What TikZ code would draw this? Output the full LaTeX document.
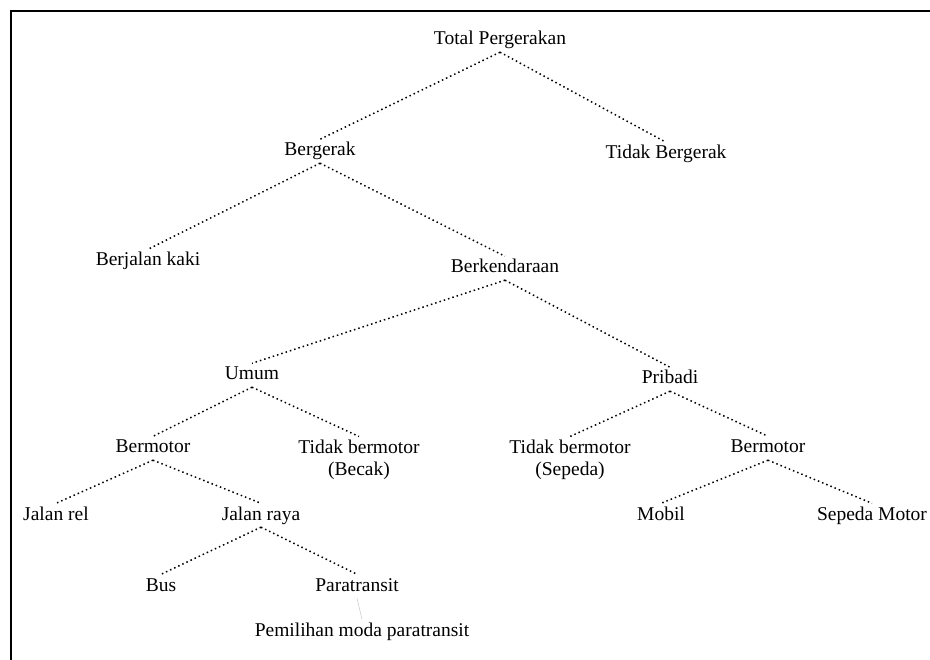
\documentclass[tikz,border=0pt]{standalone}
\usepackage{fontspec}
\setmainfont{Liberation Serif}
\begin{document}
\begin{tikzpicture}[x=1pt,y=-1pt,
  lbl/.style={font=\fontsize{19.5}{22}\selectfont, inner sep=3pt,
              text height=13.5pt, text depth=4pt, anchor=base},
  lbltwo/.style={font=\fontsize{19.5}{22}\selectfont, inner sep=3pt,
              align=center, anchor=north},
  link/.style={draw=black, line width=1.5pt, dash pattern=on 1.5pt off 3pt},
  faint/.style={draw=black!20, line width=0.6pt}]

\useasboundingbox (0,0) rectangle (930,660);
\clip (0,0) rectangle (930,660);

% frame (open to the right and bottom)
\draw[line width=2.2pt] (10.8,700) -- (10.8,10.8) -- (960,10.8);

% labels
\node[lbl] (total)      at (500,45)  {Total Pergerakan};
\node[lbl] (gerak)      at (320,156) {Bergerak};
\node[lbl] (tidakgerak) at (666,159) {Tidak Bergerak};
\node[lbl] (jalan)      at (148,266) {Berjalan kaki};
\node[lbl] (kendara)    at (505,273) {Berkendaraan};
\node[lbl] (umum)       at (252,380) {Umum};
\node[lbl] (pribadi)    at (670,384) {Pribadi};
\node[lbl] (motorU)     at (153,453) {Bermotor};
\node[lbltwo] (becak)   at (359,436.5) {Tidak bermotor\\(Becak)};
\node[lbltwo] (sepeda)  at (570,436.5) {Tidak bermotor\\(Sepeda)};
\node[lbl] (motorP)     at (768,453) {Bermotor};
\node[lbl] (rel)        at (56,520)  {Jalan rel};
\node[lbl] (raya)       at (261,520) {Jalan raya};
\node[lbl] (mobil)      at (661,520) {Mobil};
\node[lbl] (smotor)     at (872,520) {Sepeda Motor};
\node[lbl] (bus)        at (161,591) {Bus};
\node[lbl] (para)       at (357,591) {Paratransit};
\node[lbl] (pilih)      at (362,636) {Pemilihan moda paratransit};

% tree connectors
\draw[link] (total.south)   -- (gerak.north);
\draw[link] (total.south)   -- (tidakgerak.north);
\draw[link] (gerak.south)   -- (jalan.north);
\draw[link] (gerak.south)   -- (kendara.north);
\draw[link] (kendara.south) -- (umum.north);
\draw[link] (kendara.south) -- (pribadi.north);
\draw[link] (umum.south)    -- (motorU.north);
\draw[link] (umum.south)    -- (becak.north);
\draw[link] (pribadi.south) -- (sepeda.north);
\draw[link] (pribadi.south) -- (motorP.north);
\draw[link] (motorU.south)  -- (rel.north);
\draw[link] (motorU.south)  -- (raya.north);
\draw[link] (motorP.south)  -- (mobil.north);
\draw[link] (motorP.south)  -- (smotor.north);
\draw[link] (raya.south)    -- (bus.north);
\draw[link] (raya.south)    -- (para.north);
\draw[faint] (para.south)   -- (pilih.north);
\end{tikzpicture}
\end{document}
